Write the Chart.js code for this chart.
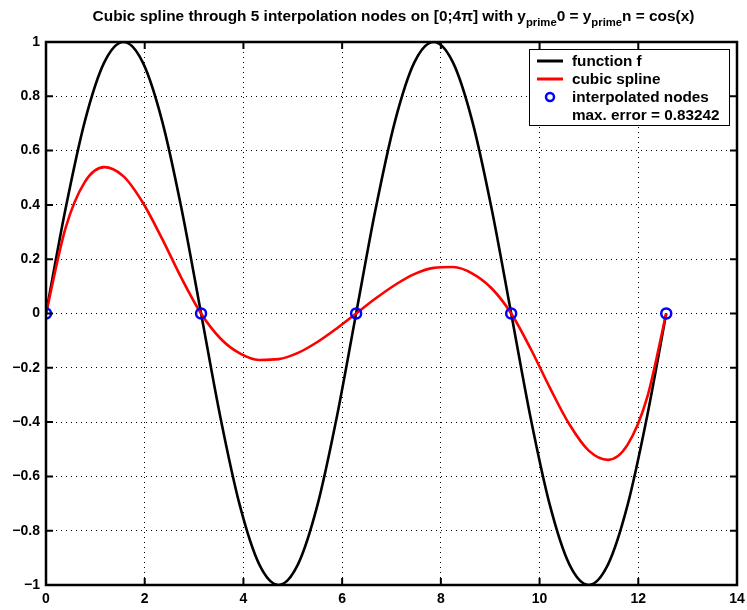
<!DOCTYPE html>
<html>
<head>
<meta charset="utf-8">
<script src="https://cdn.jsdelivr.net/npm/chart.js@4.4.0/dist/chart.umd.min.js"></script>
<style>
  body { margin: 0; background: #fff; }
  #wrap { width: 747px; height: 610px; }
</style>
</head>
<body>
<div id="wrap"><canvas id="myChart" width="747" height="610"></canvas></div>
<script>
// sample points along x
var xVals = [0, 0.393, 0.785, 1.178, 1.571, 1.963, 2.356, 2.749, 3.142, 3.534, 3.927, 4.320, 4.712, 5.105, 5.498, 5.890,
  6.283, 6.676, 7.069, 7.461, 7.854, 8.247, 8.639, 9.032, 9.425, 9.817, 10.210, 10.603, 10.996, 11.388, 11.781, 12.174, 12.566];
// black curve
var funcVals = [0, 0.383, 0.707, 0.924, 1, 0.924, 0.707, 0.383, 0, -0.383, -0.707, -0.924, -1, -0.924, -0.707, -0.383,
  0, 0.383, 0.707, 0.924, 1, 0.924, 0.707, 0.383, 0, -0.383, -0.707, -0.924, -1, -0.924, -0.707, -0.383, 0];
// red curve
var splineVals = [0, 0.313, 0.484, 0.539, 0.505, 0.408, 0.274, 0.129, 0, -0.092, -0.147, -0.171, -0.168, -0.145, -0.105, -0.055,
  0, 0.055, 0.105, 0.145, 0.168, 0.171, 0.147, 0.092, 0, -0.129, -0.274, -0.408, -0.505, -0.539, -0.484, -0.313, 0];
// the blue circles
var nodeX = [0, 3.1416, 6.2832, 9.4248, 12.5664];
var nodeY = [0, 0, 0, 0, 0];

var legendLabels = ["function f", "cubic spline", "interpolated nodes", "max. error = 0.83242"];

function pts(xs, ys) {
  return xs.map(function (x, i) { return { x: x, y: ys[i] }; });
}

var FAM = "'Liberation Sans', Arial, sans-serif";

// title with the two "prime" subscripts
var titlePlugin = {
  id: 'mtitle',
  afterDraw: function (chart) {
    var c = chart.ctx;
    var parts = [
      ["Cubic spline through 5 interpolation nodes on [0;4\u03c0] with y", false],
      ["prime", true],
      ["0 = y", false],
      ["prime", true],
      ["n = cos(x)", false]
    ];
    var big = "bold 15.4px " + FAM;
    var small = "bold 11.3px " + FAM;
    c.save();
    var w = 0;
    parts.forEach(function (p) { c.font = p[1] ? small : big; w += c.measureText(p[0]).width; });
    var x = 393.5 - w / 2;
    c.fillStyle = '#000';
    c.textBaseline = 'alphabetic';
    parts.forEach(function (p) {
      c.font = p[1] ? small : big;
      c.fillText(p[0], x, p[1] ? 25.5 : 21);
      x += c.measureText(p[0]).width;
    });
    c.restore();
  }
};

// frame, inward ticks, legend box
var framePlugin = {
  id: 'frame',
  afterDatasetsDraw: function (chart) {
    var c = chart.ctx, a = chart.chartArea;
    var xs = chart.scales.x, ys = chart.scales.y;
    c.save();
    c.strokeStyle = '#000';
    c.lineWidth = 2;
    c.beginPath();
    xs.ticks.forEach(function (t) {
      var px = xs.getPixelForValue(t.value);
      c.moveTo(px, a.bottom); c.lineTo(px, a.bottom - 7);
      c.moveTo(px, a.top); c.lineTo(px, a.top + 7);
    });
    ys.ticks.forEach(function (t) {
      var py = ys.getPixelForValue(t.value);
      c.moveTo(a.left, py); c.lineTo(a.left + 7, py);
      c.moveTo(a.right, py); c.lineTo(a.right - 7, py);
    });
    c.stroke();
    c.lineWidth = 2.5;
    c.strokeRect(a.left, a.top, a.right - a.left, a.bottom - a.top);

    // legend
    var lx = 529, ly = 49, lw = 200, lh = 76;
    c.fillStyle = '#fff';
    c.fillRect(lx, ly, lw, lh);
    c.lineWidth = 1;
    c.strokeRect(lx + 0.5, ly + 0.5, lw, lh);
    var rows = [61, 79, 97, 115];
    c.font = "bold 15.3px " + FAM;
    c.textBaseline = 'middle';
    c.fillStyle = '#000';
    legendLabels.forEach(function (txt, i) {
      c.fillText(txt, 572, rows[i] + 1);
    });
    c.lineWidth = 3;
    c.strokeStyle = '#000';
    c.beginPath(); c.moveTo(537, rows[0]); c.lineTo(563, rows[0]); c.stroke();
    c.strokeStyle = '#ff0000';
    c.beginPath(); c.moveTo(537, rows[1]); c.lineTo(563, rows[1]); c.stroke();
    c.strokeStyle = '#0000ff';
    c.lineWidth = 2.5;
    c.beginPath(); c.arc(550, rows[2], 4, 0, Math.PI * 2); c.stroke();
    c.restore();
  }
};

function tickFmt(v) {
  if (Math.abs(v) < 1e-9) return '0';
  var s = String(parseFloat(Math.abs(v).toFixed(1)));
  return (v < 0 ? '\u2212' : '') + s;
}

var ctx = document.getElementById("myChart");
var myChart = new Chart(ctx, {
  type: 'line',
  data: {
    datasets: [
      {
        data: pts(nodeX, nodeY),
        showLine: false,
        pointRadius: 5,
        pointBorderWidth: 2.5,
        pointBorderColor: '#0000ff',
        pointBackgroundColor: 'rgba(0,0,0,0)',
        order: 0
      },
      {
        data: pts(xVals, splineVals),
        borderColor: '#ff0000',
        borderWidth: 2.6,
        pointRadius: 0,
        cubicInterpolationMode: 'monotone',
        fill: false,
        order: 1
      },
      {
        data: pts(xVals, funcVals),
        borderColor: '#000000',
        borderWidth: 2.6,
        pointRadius: 0,
        cubicInterpolationMode: 'monotone',
        fill: false,
        order: 2
      }
    ]
  },
  options: {
    responsive: false,
    animation: false,
    layout: { padding: { top: 42, right: 10, left: 0, bottom: 0 } },
    plugins: { legend: { display: false }, tooltip: { enabled: false }, title: { display: false } },
    scales: {
      x: {
        type: 'linear', min: 0, max: 14,
        ticks: { stepSize: 2, color: '#000', padding: 6, font: { family: FAM, size: 14, weight: 'bold' }, maxRotation: 0 },
        grid: { color: '#000', lineWidth: 1, drawTicks: false },
        border: { display: false, dash: [1, 4] },
        afterFit: function (s) { s.height = 25; s.paddingLeft = 0; s.paddingRight = 0; }
      },
      y: {
        min: -1, max: 1,
        ticks: { stepSize: 0.2, color: '#000', padding: 6, callback: tickFmt, font: { family: FAM, size: 14, weight: 'bold' } },
        grid: { color: '#000', lineWidth: 1, drawTicks: false },
        border: { display: false, dash: [1, 4] },
        afterFit: function (s) { s.width = 46; s.paddingTop = 0; s.paddingBottom = 0; }
      }
    }
  },
  plugins: [titlePlugin, framePlugin]
});
</script>
</body>
</html>
